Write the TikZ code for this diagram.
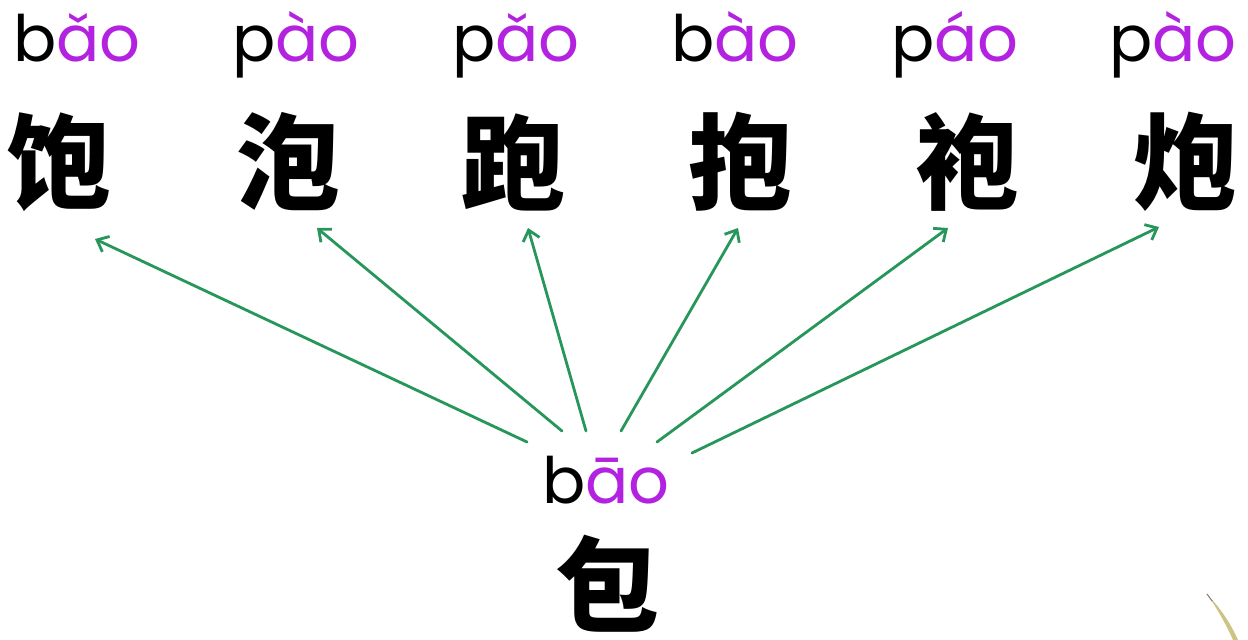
\documentclass[tikz,border=0pt]{standalone}
\usepackage{fontspec}
\setmainfont{Poppins}
\newfontfamily\cjk{Noto Sans CJK SC}
\usetikzlibrary{arrows.meta}
\definecolor{pur}{RGB}{178,34,224}
\definecolor{arrgreen}{RGB}{38,150,90}
\definecolor{brush}{RGB}{205,195,130}
\tikzset{
  py/.style={font=\fontsize{64}{64}\selectfont, inner sep=0pt, anchor=base},
  hz/.style={font=\cjk\fontsize{104}{104}\selectfont\bfseries, inner sep=0pt, anchor=center},
  link/.style={draw=arrgreen, line width=2.8pt, line cap=round, -{Straight Barb[length=10pt,width=17pt,line width=2.8pt]}}
}
\newcommand{\pyt}[2]{{\color{black}#1}{\color{pur}#2}}
\newcommand{\caronA}{\ooalign{\hfil ˇ\hfil\cr a\cr}}
\begin{document}
\begin{tikzpicture}[x=1pt,y=-1pt]
\useasboundingbox[fill=white] (0,0) rectangle (1248,640);
% top pinyin
\node[py] (p1) at (77,61) {\pyt{b}{\caronA o}};
\node[py] (p2) at (296,61) {\pyt{p}{ào}};
\node[py] (p3) at (516,61) {\pyt{p}{\caronA o}};
\node[py] (p4) at (735,61) {\pyt{b}{ào}};
\node[py] (p5) at (955,61) {\pyt{p}{áo}};
\node[py] (p6) at (1173,61) {\pyt{p}{ào}};
% top characters
\node[hz] (c1) at (60,162) {饱};
\node[hz] (c2) at (288,162) {泡};
\node[hz] (c3) at (513,162) {跑};
\node[hz] (c4) at (740,162) {抱};
\node[hz] (c5) at (967,162) {袍};
\node[hz] (c6) at (1185,162) {炮};
% bottom
\node[py] (pb) at (606,503) {\pyt{b}{āo}};
\node[hz] (cb) at (607,584) {包};
% arrow anchors
\coordinate (s1) at (527,442);
\coordinate (s2) at (562,431);
\coordinate (s3) at (586,431);
\coordinate (s4) at (621,431);
\coordinate (s5) at (657,442);
\coordinate (s6) at (692,453);
\coordinate (e1) at (95,239);
\coordinate (e2) at (317,228);
\coordinate (e3) at (528,228);
\coordinate (e4) at (738,228);
\coordinate (e5) at (948,228);
\coordinate (e6) at (1159,227);
\foreach \i in {1,...,6} {\draw[link] (s\i) -- (e\i);}
% brush stroke in corner
\fill[brush] (1207,594) .. controls (1220,608) and (1230,622) .. (1238,640)
  -- (1233,640) .. controls (1225,622) and (1216,607) .. (1207,594) -- cycle;
\draw[gray, line width=1pt, line cap=round] (1207,594) -- (1212,601);
\end{tikzpicture}
\end{document}
